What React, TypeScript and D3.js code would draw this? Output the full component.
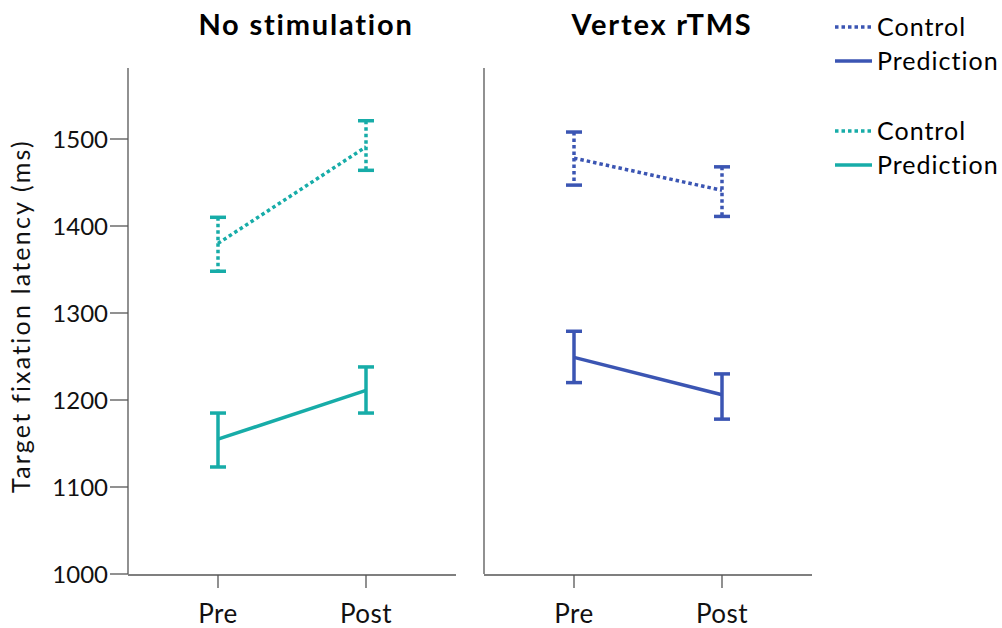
import React from "react";
import * as d3 from "d3";

const panels = ["No stimulation", "Vertex rTMS"];
const timepoints = ["Pre", "Post"];
const yTicks = [1000, 1100, 1200, 1300, 1400, 1500];

// [Pre, Post] means and error bounds
const noStimControlMean = [1380, 1491];
const noStimControlLow = [1348, 1464];
const noStimControlHigh = [1410, 1521];
const noStimPredMean = [1155, 1211];
const noStimPredLow = [1123, 1185];
const noStimPredHigh = [1185, 1238];

const vertexControlMean = [1478, 1441];
const vertexControlLow = [1447, 1411];
const vertexControlHigh = [1508, 1468];
const vertexPredMean = [1249, 1206];
const vertexPredLow = [1220, 1178];
const vertexPredHigh = [1279, 1230];

const TEAL = "#17aca8";
const BLUE = "#3b55b3";
const FONT = "Lato, 'Open Sans', sans-serif";

const seriesByPanel = [
  [
    { name: "Control", color: TEAL, dotted: true, mean: noStimControlMean, low: noStimControlLow, high: noStimControlHigh },
    { name: "Prediction", color: TEAL, dotted: false, mean: noStimPredMean, low: noStimPredLow, high: noStimPredHigh },
  ],
  [
    { name: "Control", color: BLUE, dotted: true, mean: vertexControlMean, low: vertexControlLow, high: vertexControlHigh },
    { name: "Prediction", color: BLUE, dotted: false, mean: vertexPredMean, low: vertexPredLow, high: vertexPredHigh },
  ],
];

const legendItems = [
  { name: "Control", color: BLUE, dotted: true },
  { name: "Prediction", color: BLUE, dotted: false },
  { name: "Control", color: TEAL, dotted: true },
  { name: "Prediction", color: TEAL, dotted: false },
];

export default function App() {
  const W = 1002, H = 628;
  const y = d3.scaleLinear().domain([1000, 1500]).range([574, 139]);
  const yTop = 68;
  const panelX = [
    [128, 456],
    [484, 812],
  ];
  const axisColor = "#555";
  const lineGen = d3.line<[number, number]>().x((d) => d[0]).y((d) => d[1]);
  const legendY = [27, 61, 131, 165];

  return (
    <svg width={W} height={H} style={{ position: "absolute", left: 0, top: 0, background: "#fff" }}>
      {panels.map((p, pi) => {
        const [x0, x1] = panelX[pi];
        const x = d3.scalePoint().domain(timepoints).range([x0 + 90, x0 + 238]);
        return (
          <g key={p}>
            <text x={(x0 + x1) / 2 + 14} y={35} textAnchor="middle" fontFamily={FONT} fontWeight="bold" fontSize={29} letterSpacing={1.8} fill="#000">{p}</text>
            <line x1={x0} x2={x0} y1={yTop} y2={y(1000)} stroke={axisColor} strokeWidth={1.3} />
            <line x1={x0} x2={x1} y1={y(1000) + 1} y2={y(1000) + 1} stroke={axisColor} strokeWidth={1.3} />
            {pi === 0 && yTicks.map((t) => (
              <g key={t}>
                <line x1={x0 - 18} x2={x0} y1={y(t)} y2={y(t)} stroke={axisColor} strokeWidth={1.3} />
                <text x={x0 - 20} y={y(t)} dy="0.36em" textAnchor="end" fontFamily={FONT} fontSize={24} fill="#111">{t}</text>
              </g>
            ))}
            {timepoints.map((tp) => (
              <g key={tp}>
                <line x1={x(tp)!} x2={x(tp)!} y1={y(1000) + 1} y2={y(1000) + 14} stroke={axisColor} strokeWidth={1.3} />
                <text x={x(tp)!} y={623} textAnchor="middle" fontFamily={FONT} fontSize={26} letterSpacing={0.5} fill="#111">{tp}</text>
              </g>
            ))}
            {seriesByPanel[pi].map((s, si) => {
              const pts: [number, number][] = timepoints.map((tp, i) => [x(tp)!, y(s.mean[i])]);
              const dash = s.dotted ? "3.5 3" : undefined;
              return (
                <g key={si}>
                  <path d={lineGen(pts)!} fill="none" stroke={s.color} strokeWidth={3.5} strokeDasharray={dash} />
                  {timepoints.map((tp, i) => {
                    const cx = x(tp)!;
                    return (
                      <g key={tp}>
                        <line x1={cx} x2={cx} y1={y(s.high[i])} y2={y(s.low[i])} stroke={s.color} strokeWidth={3.5} strokeDasharray={dash} />
                        <line x1={cx - 8} x2={cx + 8} y1={y(s.high[i])} y2={y(s.high[i])} stroke={s.color} strokeWidth={3.5} />
                        <line x1={cx - 8} x2={cx + 8} y1={y(s.low[i])} y2={y(s.low[i])} stroke={s.color} strokeWidth={3.5} />
                      </g>
                    );
                  })}
                </g>
              );
            })}
          </g>
        );
      })}
      {legendItems.map((l, i) => (
        <g key={i}>
          <line x1={835} x2={872} y1={legendY[i]} y2={legendY[i]} stroke={l.color} strokeWidth={3.5} strokeDasharray={l.dotted ? "3.5 3" : undefined} />
          <text x={877} y={legendY[i]} dy="0.36em" fontFamily={FONT} fontSize={25} letterSpacing={1} fill="#000">{l.name}</text>
        </g>
      ))}
      <text transform="translate(30,316) rotate(-90)" textAnchor="middle" fontFamily={FONT} fontSize={25} letterSpacing={2.2} fill="#111">Target fixation latency (ms)</text>
    </svg>
  );
}
